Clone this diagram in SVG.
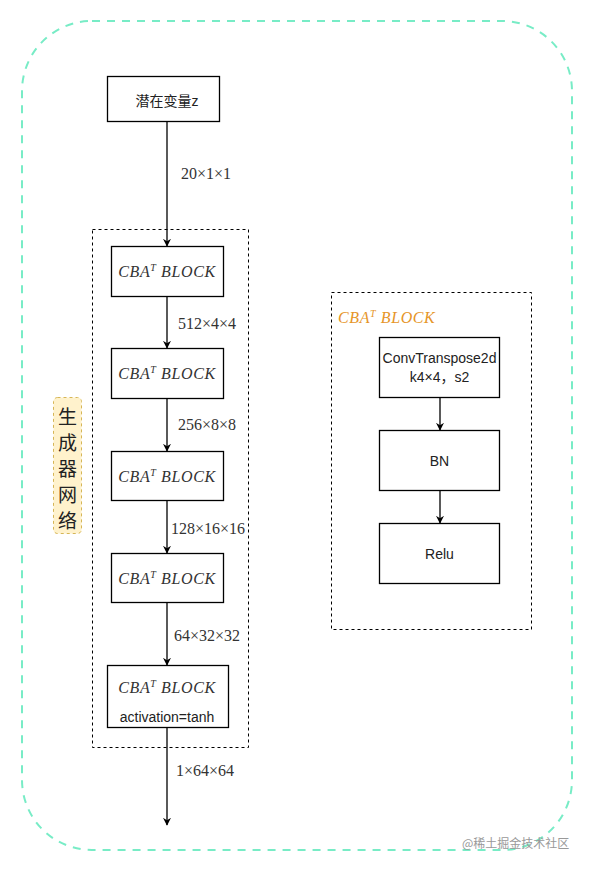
<svg xmlns="http://www.w3.org/2000/svg" width="593" height="870" viewBox="0 0 593 870">
<defs>
<style>
.box{fill:#fff;stroke:#000;stroke-width:1.3}
.dash{fill:none;stroke:#000;stroke-width:1;stroke-dasharray:3 3}
.edge{fill:none;stroke:#000;stroke-width:1.3;marker-end:url(#arr)}
.lbl{font-family:"Liberation Serif",serif;font-size:16px;fill:#333}
.math{font-family:"Liberation Serif",serif;font-style:italic;font-size:16px;letter-spacing:0.6px;fill:#333}
.sans{font-family:"Liberation Sans",Arial,sans-serif;font-size:14px;fill:#222}
.cjk{font-family:"Liberation Sans","Noto Sans CJK SC",sans-serif;font-size:14px;fill:#222}
</style>
<marker id="arr" viewBox="0 0 10 10" refX="9" refY="5" markerWidth="8" markerHeight="8" markerUnits="userSpaceOnUse" orient="auto">
<path d="M0,0 L10,5 L0,10 L3,5 z" fill="#000"/>
</marker>
</defs>
<rect width="593" height="870" fill="#fff"/>
<g id="outer">
<rect x="22" y="21" width="550" height="829" rx="70" ry="70" fill="none" stroke="#78ecc6" stroke-width="2" stroke-dasharray="8 7"/>
</g>
<g id="gen-group">
<rect class="dash" x="92.5" y="229.5" width="156" height="518"/>
</g>
<g id="cba-group">
<rect class="dash" x="331.5" y="292.5" width="200" height="337" stroke="#333"/>
<text x="338" y="323" font-family="Liberation Serif,serif" font-style="italic" font-size="16px" letter-spacing="0.6px" fill="#e69528">CBA<tspan dy="-6" font-size="10px">T</tspan><tspan dy="6"> BLOCK</tspan></text>
</g>
<g id="label-net">
<rect x="53.5" y="397.5" width="28" height="136" rx="4" fill="#fff2cc" stroke="#d6b656" stroke-dasharray="3 3"/>
<text font-family="Noto Sans CJK SC,sans-serif" font-size="19px" fill="#222" text-anchor="middle">
<tspan x="67.5" y="424">生</tspan><tspan x="67.5" y="450">成</tspan><tspan x="67.5" y="476">器</tspan><tspan x="67.5" y="502">网</tspan><tspan x="67.5" y="528">络</tspan>
</text>
</g>
<g id="connectors">
<path class="edge" d="M167,121 V246"/>
<path class="edge" d="M167,296 V348"/>
<path class="edge" d="M167,398 V451"/>
<path class="edge" d="M167,500 V553"/>
<path class="edge" d="M167,602 V665"/>
<path class="edge" d="M167,727 V825"/>
<path class="edge" d="M440,397 V430"/>
<path class="edge" d="M440,490 V523"/>
<text class="lbl" x="181" y="179">20×1×1</text>
<text class="lbl" x="178" y="329">512×4×4</text>
<text class="lbl" x="178" y="430">256×8×8</text>
<text class="lbl" x="171" y="534">128×16×16</text>
<text class="lbl" x="174" y="641">64×32×32</text>
<text class="lbl" x="176" y="776">1×64×64</text>
</g>
<g id="node-z">
<rect class="box" x="107.5" y="76.5" width="112" height="45"/>
<text class="cjk" x="167" y="106" text-anchor="middle">潜在变量z</text>
</g>
<g id="block1">
<rect class="box" x="111.5" y="246.5" width="112" height="50"/>
<text class="math" x="167" y="277" text-anchor="middle">CBA<tspan dy="-6" font-size="10px">T</tspan><tspan dy="6"> BLOCK</tspan></text>
</g>
<g id="block2">
<rect class="box" x="111.5" y="348.5" width="112" height="50"/>
<text class="math" x="167" y="379" text-anchor="middle">CBA<tspan dy="-6" font-size="10px">T</tspan><tspan dy="6"> BLOCK</tspan></text>
</g>
<g id="block3">
<rect class="box" x="111.5" y="451.5" width="112" height="49"/>
<text class="math" x="167" y="482" text-anchor="middle">CBA<tspan dy="-6" font-size="10px">T</tspan><tspan dy="6"> BLOCK</tspan></text>
</g>
<g id="block4">
<rect class="box" x="111.5" y="553.5" width="112" height="49"/>
<text class="math" x="167" y="584" text-anchor="middle">CBA<tspan dy="-6" font-size="10px">T</tspan><tspan dy="6"> BLOCK</tspan></text>
</g>
<g id="block5">
<rect class="box" x="107.5" y="665.5" width="121" height="62"/>
<text class="math" x="167" y="693" text-anchor="middle">CBA<tspan dy="-6" font-size="10px">T</tspan><tspan dy="6"> BLOCK</tspan></text>
<text class="sans" x="167" y="722" text-anchor="middle">activation=tanh</text>
</g>
<g id="conv">
<rect class="box" x="379.5" y="337.5" width="120" height="60"/>
<text class="cjk" x="439.5" y="363" text-anchor="middle">ConvTranspose2d</text>
<text class="cjk" x="439.5" y="382" text-anchor="middle">k4×4，s2</text>
</g>
<g id="bn">
<rect class="box" x="379.5" y="430.5" width="120" height="60"/>
<text class="sans" x="439.5" y="466" text-anchor="middle">BN</text>
</g>
<g id="relu">
<rect class="box" x="379.5" y="523.5" width="120" height="60"/>
<text class="sans" x="439.5" y="559" text-anchor="middle">Relu</text>
</g>
<g id="watermark">
<text x="462" y="848" font-family="Noto Sans CJK SC,sans-serif" font-size="12px" fill="#999">@稀土掘金技术社区</text>
</g>
</svg>
